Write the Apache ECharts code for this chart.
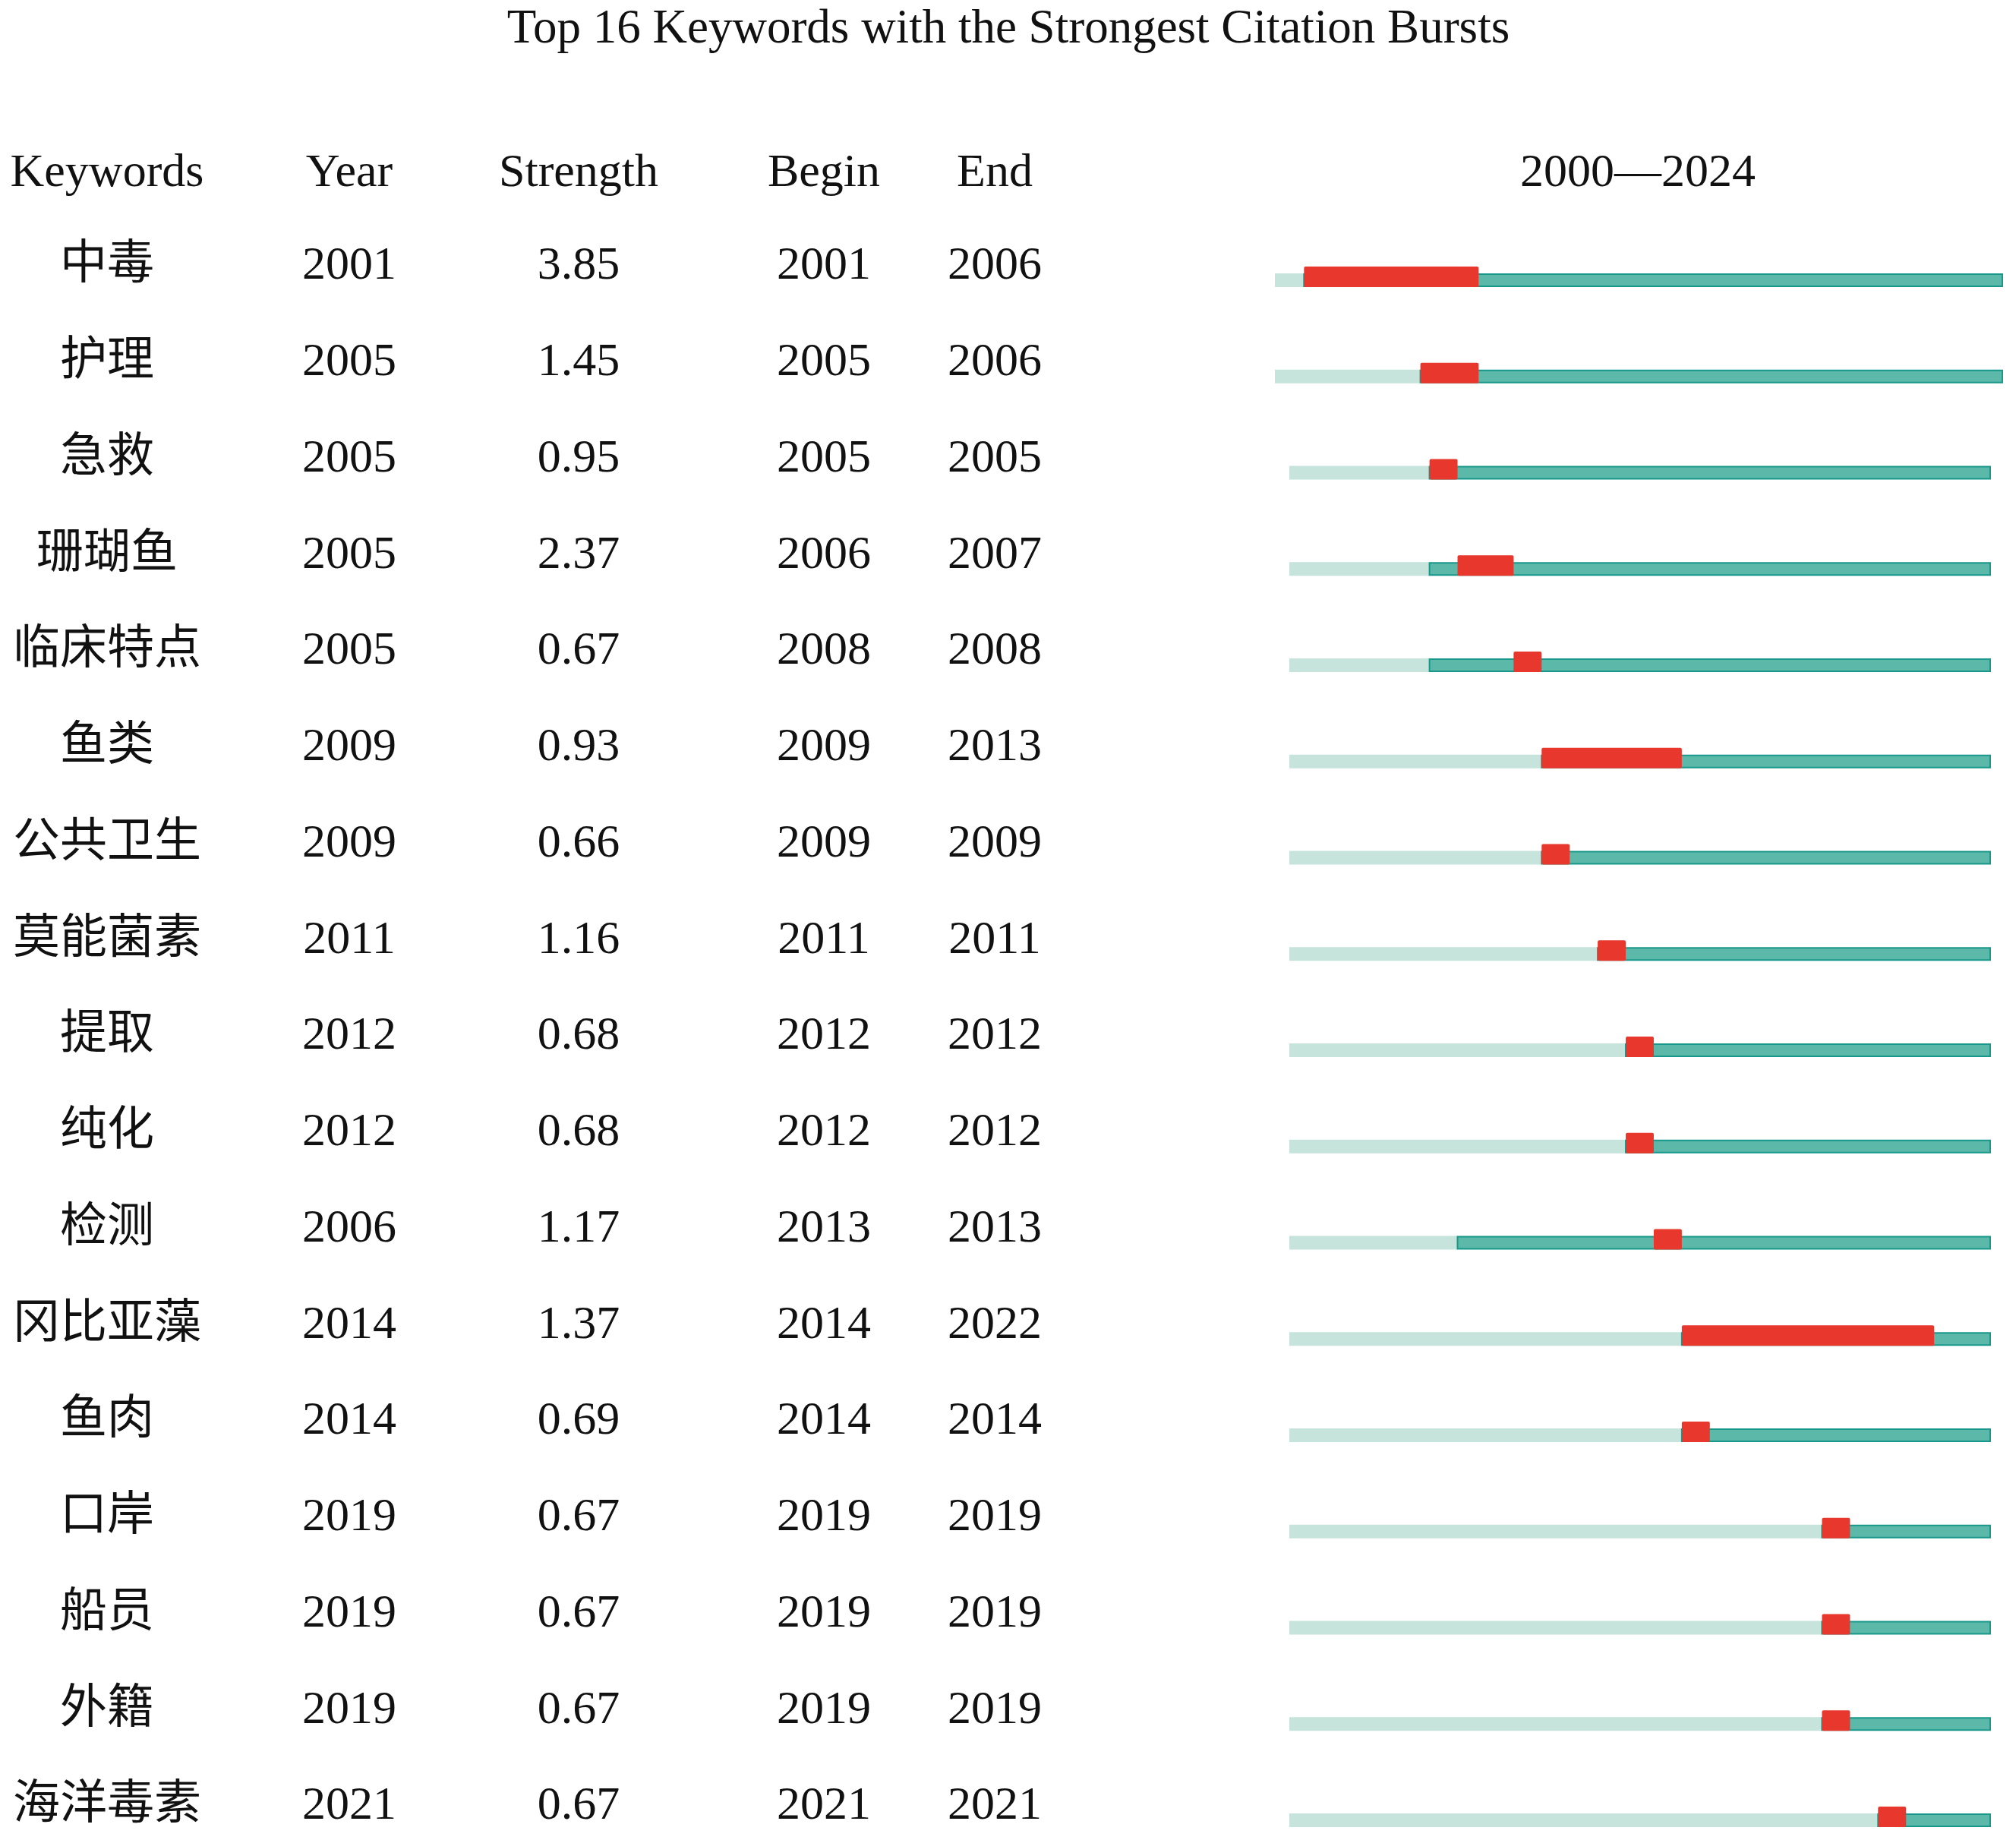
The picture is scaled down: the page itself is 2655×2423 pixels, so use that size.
<!DOCTYPE html>
<html>
<head>
<meta charset="utf-8">
<script src="https://cdn.jsdelivr.net/npm/echarts@6/dist/echarts.min.js"></script>
<style>
html,body{margin:0;padding:0;background:#fff;}
#chart{width:2655px;height:2423px;}
</style>
</head>
<body>
<div id="chart"></div>
<script>
// ---- data ----
var titleText = 'Top 16 Keywords with the Strongest Citation Bursts';
var headers = ['Keywords', 'Year', 'Strength', 'Begin', 'End'];
var startYear = 2000;
var endYear = 2024;
var keywords = ['中毒','护理','急救','珊瑚鱼','临床特点','鱼类','公共卫生','莫能菌素','提取','纯化','检测','冈比亚藻','鱼肉','口岸','船员','外籍','海洋毒素'];
var years = [2001,2005,2005,2005,2005,2009,2009,2011,2012,2012,2006,2014,2014,2019,2019,2019,2021];
var strengths = ['3.85','1.45','0.95','2.37','0.67','0.93','0.66','1.16','0.68','0.68','1.17','1.37','0.69','0.67','0.67','0.67','0.67'];
var begins = [2001,2005,2005,2006,2008,2009,2009,2011,2012,2012,2013,2014,2014,2019,2019,2019,2021];
var ends = [2006,2006,2005,2007,2008,2013,2009,2011,2012,2012,2013,2022,2014,2019,2019,2019,2021];

// ---- layout / style constants ----
var FONT = '"Liberation Serif", "Times New Roman", "Noto Sans CJK SC", serif';
var COL_X = [141, 460, 762, 1085, 1310];
var LIGHT = '#c6e4db', TEAL = '#5cb8a8', TEAL_BORDER = '#17988a', RED = '#e8372d';
var BAR_H = 18, RED_EXTRA = 9;

var rowsData = keywords.map(function (k, i) {
  return [i, years[i], begins[i], ends[i]];
});

function renderBar(params, api) {
  var row = api.value(0), yr = api.value(1), b = api.value(2), e = api.value(3);
  var p0 = api.coord([startYear, row]);
  var pY = api.coord([yr, row]);
  var pB = api.coord([b, row]);
  var pE = api.coord([e + 1, row]);
  var pEnd = api.coord([endYear + 1, row]);
  var cy = p0[1];
  var top = cy - BAR_H / 2;
  return {
    type: 'group',
    children: [
      { type: 'rect', shape: { x: p0[0], y: top, width: pY[0] - p0[0], height: BAR_H },
        style: { fill: LIGHT } },
      { type: 'rect', shape: { x: pY[0], y: top + 1, width: pEnd[0] - pY[0], height: BAR_H - 2 },
        style: { fill: TEAL, stroke: TEAL_BORDER, lineWidth: 2 } },
      { type: 'rect', shape: { x: pB[0], y: top - RED_EXTRA, width: pE[0] - pB[0], height: BAR_H + RED_EXTRA, r: 2 },
        style: { fill: RED } }
    ]
  };
}

function renderText(params, api) {
  var row = api.value(0);
  var cy = api.coord([startYear, row])[1] - 18;
  var vals = [keywords[row], String(years[row]), strengths[row], String(begins[row]), String(ends[row])];
  return {
    type: 'group',
    children: vals.map(function (v, j) {
      return { type: 'text', x: COL_X[j], y: cy,
        style: { text: v, font: '62px ' + FONT, fill: '#111', align: 'center', verticalAlign: 'middle' } };
    })
  };
}

var chart = echarts.init(document.getElementById('chart'), null, { renderer: 'canvas' });

var headerGraphics = headers.map(function (h, j) {
  return { type: 'text', x: COL_X[j], y: 229,
    style: { text: h, font: '62px ' + FONT, fill: '#111', align: 'center', verticalAlign: 'middle' } };
});
headerGraphics.push({ type: 'text', x: 2157, y: 229,
  style: { text: startYear + '—' + endYear, font: '62px ' + FONT, fill: '#111', align: 'center', verticalAlign: 'middle' } });
headerGraphics.push({ type: 'text', x: 1328, y: 39,
  style: { text: titleText, font: '63px ' + FONT, fill: '#111', align: 'center', verticalAlign: 'middle' } });

chart.setOption({
  animation: false,
  backgroundColor: '#fff',
  grid: [
    { left: 1679, right: 18, top: 369, height: 2028 },
    { left: 1698, right: 34, top: 369, height: 2028 }
  ],
  xAxis: [
    { type: 'value', gridIndex: 0, min: startYear, max: endYear + 1, show: false },
    { type: 'value', gridIndex: 1, min: startYear, max: endYear + 1, show: false }
  ],
  yAxis: [
    { type: 'value', gridIndex: 0, min: 0, max: keywords.length - 1, inverse: true, show: false },
    { type: 'value', gridIndex: 1, min: 0, max: keywords.length - 1, inverse: true, show: false }
  ],
  graphic: headerGraphics,
  series: [
    { type: 'custom', xAxisIndex: 0, yAxisIndex: 0, renderItem: renderBar, data: rowsData.slice(0, 2), silent: true },
    { type: 'custom', xAxisIndex: 1, yAxisIndex: 1, renderItem: renderBar, data: rowsData.slice(2), silent: true },
    { type: 'custom', xAxisIndex: 1, yAxisIndex: 1, renderItem: renderText, data: rowsData, silent: true }
  ]
});
</script>
</body>
</html>
